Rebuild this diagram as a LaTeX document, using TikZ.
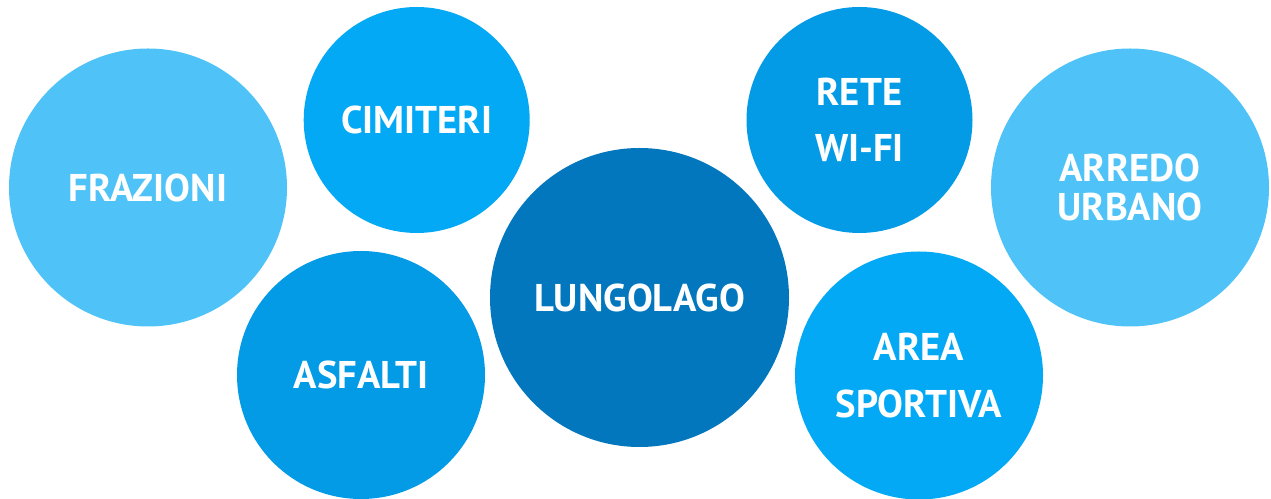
\documentclass[tikz,border=0pt]{standalone}
\usepackage{fontspec}
\setmainfont{PT Sans}
\usepackage{tikz}
\definecolor{paleblock}{RGB}{79, 195, 247}
\definecolor{midblock}{RGB}{3, 169, 244}
\definecolor{deepblock}{RGB}{3, 155, 229}
\definecolor{coreblock}{RGB}{2, 119, 189}

\begin{document}
\begin{tikzpicture}[x=0.02cm, y=-0.02cm,
	bubble/.style={circle, inner sep=0pt, text=white, align=center,
		font=\bfseries\fontsize{22}{22.7}\selectfont}]
	\def\rs{113}
	\def\rm{124}
	\def\rl{139}
	\useasboundingbox (0,0) rectangle (1271,499);

	% outer ring of topics
	\node[bubble, fill=paleblock, minimum size=2*\rl*0.02cm] (frazioni) at (148,187.5) {FRAZIONI};
	\node[bubble, fill=midblock, minimum size=2*\rs*0.02cm] (cimiteri) at (416.7,120) {CIMITERI};
	\node[bubble, fill=deepblock, minimum size=2*\rm*0.02cm] (asfalti) at (361,375) {ASFALTI};
	\node[bubble, fill=deepblock, minimum size=2*\rs*0.02cm] (wifi) at (859.5,120) {RETE\\[9.6pt]WI-FI};
	\node[bubble, fill=paleblock, minimum size=2*\rl*0.02cm] (arredo) at (1130,187.5) {ARREDO\\URBANO};
	\node[bubble, fill=midblock, minimum size=2*\rm*0.02cm] (sport) at (919,375.5) {AREA\\[9.6pt]SPORTIVA};

	% centre
	\node[bubble, fill=coreblock, minimum size=299*0.02cm] (lago) at (639.5,297.5) {LUNGOLAGO};
\end{tikzpicture}
\end{document}
